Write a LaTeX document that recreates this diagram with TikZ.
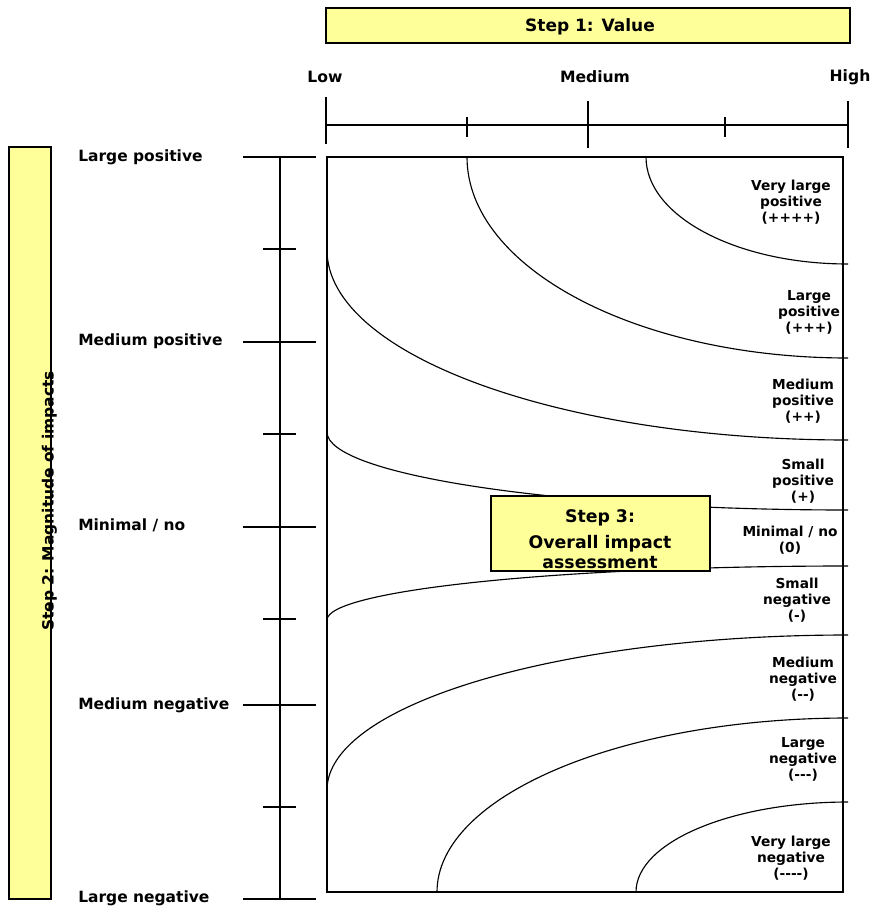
\documentclass[tikz,border=0pt]{standalone}
\usepackage{fontspec}
\setmainfont[Ligatures=TeXOff]{DejaVu Sans}
\definecolor{boxyellow}{HTML}{FFFF99}
\begin{document}
\begin{tikzpicture}[x=0.75pt,y=-0.75pt,
  lbl/.style={font=\fontsize{11.6}{14}\selectfont\bfseries, anchor=west, inner sep=0},
  toplbl/.style={font=\fontsize{11.7}{14}\selectfont\bfseries, inner sep=0},
  rlbl/.style={font=\fontsize{10.3}{12}\selectfont\bfseries, align=center, inner sep=0},
  ybox/.style={draw, line width=1.5pt, fill=boxyellow, inner sep=0},
  curve/.style={line width=0.85pt},
  axisline/.style={line width=1.1pt},
]
\useasboundingbox (0,0) rectangle (872,909);

% Step 1 box
\node[ybox, minimum width=393pt, minimum height=26.25pt] (s1) at (588,25.5) {};
\node[inner sep=0, font=\fontsize{12.75}{15}\selectfont\bfseries] (s1t) at (590,27) {Step 1: Value};

% top axis
\node[toplbl] (low) at (325,77) {Low};
\node[toplbl] (med) at (595,77) {Medium};
\node[toplbl] (high) at (850,77) {High};
\coordinate (tl) at (326,125);
\coordinate (tr) at (848,125);
\draw[axisline] (tl) -- (tr);
\draw[axisline] (326,97) -- (326,144);
\draw[axisline] (588,101) -- (588,148);
\draw[axisline] (848,101) -- (848,148);
\draw[axisline] (467,117) -- (467,137);
\draw[axisline] (725,117) -- (725,137);

% left axis
\draw[axisline] (280,157) -- (280,899);
\foreach \yy in {157,342,527,705,899} \draw[axisline] (243,\yy) -- (316,\yy);
\foreach \yy in {249,434,619,807} \draw[axisline] (263,\yy) -- (296,\yy);

\node[lbl] (lp) at (78,157) {Large positive};
\node[lbl] (mp) at (78,341) {Medium positive};
\node[lbl] (mn) at (78,525) {Minimal / no};
\node[lbl] (mneg) at (78,705) {Medium negative};
\node[lbl] (lneg) at (78,898) {Large negative};

% Step 2 bar
\node[ybox, minimum width=31.5pt, minimum height=564pt] (s2) at (30,523) {};
\node[rotate=90, inner sep=0, font=\fontsize{11.6}{14}\selectfont\bfseries] (s2t) at (49.5,501) {Step 2: Magnitude of impacts};

% curves
\draw[curve] (646,157) .. controls (646,216.1) and (736.4,264) .. (848,264);
\draw[curve] (467,157) .. controls (467,268.0) and (637.6,358) .. (848,358);
\draw[curve] (327,250) .. controls (327,354.9) and (560.3,440) .. (848,440);
\draw[curve] (327,432) .. controls (327,475.1) and (560.3,510) .. (848,510);
\draw[curve] (327,620) .. controls (327,590.2) and (560.3,566) .. (848,566);
\draw[curve] (327,790) .. controls (327,704.4) and (560.3,635) .. (848,635);
\draw[curve] (437,892) .. controls (437,795.9) and (621,718) .. (848,718);
\draw[curve] (636,892) .. controls (636,842.3) and (730.9,802) .. (848,802);

% main grid
\node[draw, line width=1.9pt, minimum width=387pt, minimum height=551.25pt, inner sep=0] (grid) at (585,524.5) {};

% Step 3 box
\node[ybox, minimum width=164.25pt, minimum height=56.25pt] (s3) at (600.5,533.5) {};
\node[align=center, inner sep=0, font=\fontsize{13}{15}\selectfont\bfseries] (s3t) at (600,539) {Step 3:\\[4.5pt]Overall impact\\assessment};

% right labels
\node[rlbl] (r1) at (791,202) {Very large\\positive\\(++++)};
\node[rlbl] (r2) at (809,312) {Large\\positive\\(+++)};
\node[rlbl] (r3) at (803,401) {Medium\\positive\\(++)};
\node[rlbl] (r4) at (803,481) {Small\\positive\\(+)};
\node[rlbl] (r5) at (790,540) {Minimal / no\\(0)};
\node[rlbl] (r6) at (797,600) {Small\\negative\\(-)};
\node[rlbl] (r7) at (803,679) {Medium\\negative\\(--)};
\node[rlbl] (r8) at (803,759) {Large\\negative\\(---)};
\node[rlbl] (r9) at (791,858) {Very large\\negative\\(----)};
\end{tikzpicture}
\end{document}
